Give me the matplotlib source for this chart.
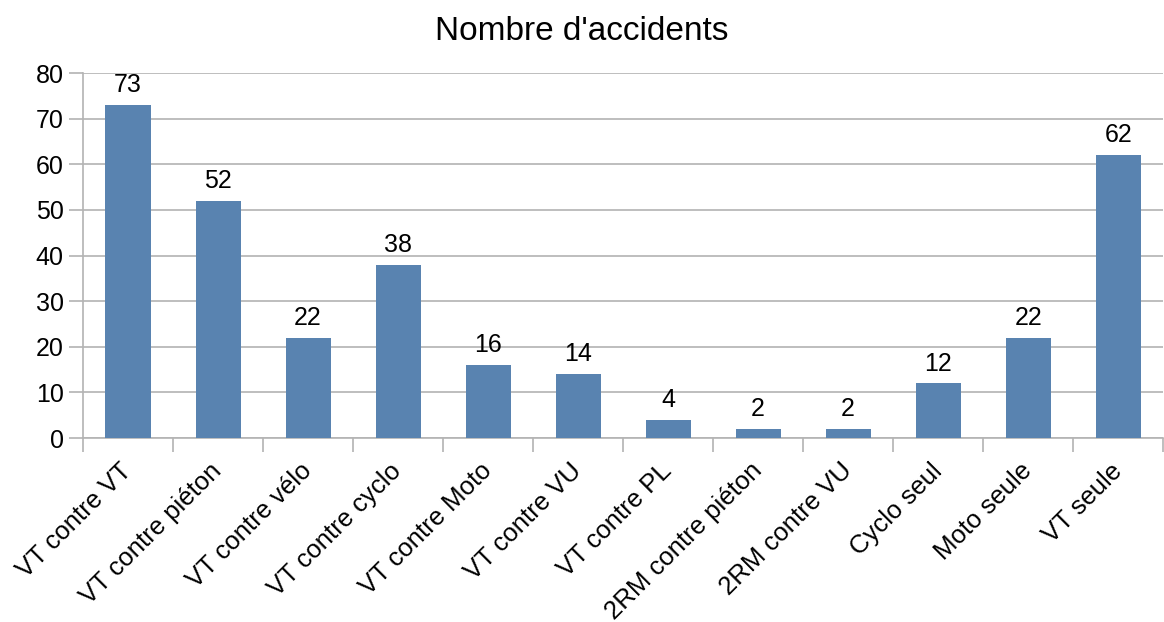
import numpy as np
import matplotlib.pyplot as plt

plt.rcParams['font.family'] = ['Liberation Sans', 'DejaVu Sans']

categories = ["VT contre VT", "VT contre piéton", "VT contre vélo", "VT contre cyclo",
              "VT contre Moto", "VT contre VU", "VT contre PL", "2RM contre piéton",
              "2RM contre VU", "Cyclo seul", "Moto seule", "VT seule"]
values = [73, 52, 22, 38, 16, 14, 4, 2, 2, 12, 22, 62]

bar_color = "#5983b0"
grid_color = "#b3b3b3"

fig = plt.figure(figsize=(11.64, 6.22), dpi=100)
ax = fig.add_axes([0.0713, 0.2958, 0.9280, 0.5868])

x = np.arange(len(categories))
bars = ax.bar(x, values, width=0.5, color=bar_color, zorder=3)
for xi, v in zip(x, values):
    ax.text(xi, v + 1.7, str(v), ha="center", va="bottom", fontsize=18)

ax.set_xlim(-0.5, len(categories) - 0.5)
ax.set_ylim(0, 80)
ax.set_yticks(range(0, 81, 10))
ax.yaxis.grid(True, color=grid_color, linewidth=1.2, zorder=0)

ax.set_xticks(x)
ax.set_xticklabels(categories, rotation=45, ha="right", va="center",
                   rotation_mode="anchor", fontsize=18.5)
ax.set_xticks(np.arange(-0.5, len(categories)), minor=True)
ax.tick_params(axis="x", which="major", length=0, pad=21)
ax.tick_params(axis="x", which="minor", length=10, color=grid_color, width=1.2)
ax.tick_params(axis="y", length=10, color=grid_color, width=1.2, labelsize=18, pad=4)

for side in ["top", "right"]:
    ax.spines[side].set_visible(False)
for side in ["left", "bottom"]:
    ax.spines[side].set_color(grid_color)
    ax.spines[side].set_linewidth(1.2)

fig.text(0.5, 0.949, "Nombre d'accidents", ha="center", va="center", fontsize=24)

fig.savefig("out.png", dpi=100)
